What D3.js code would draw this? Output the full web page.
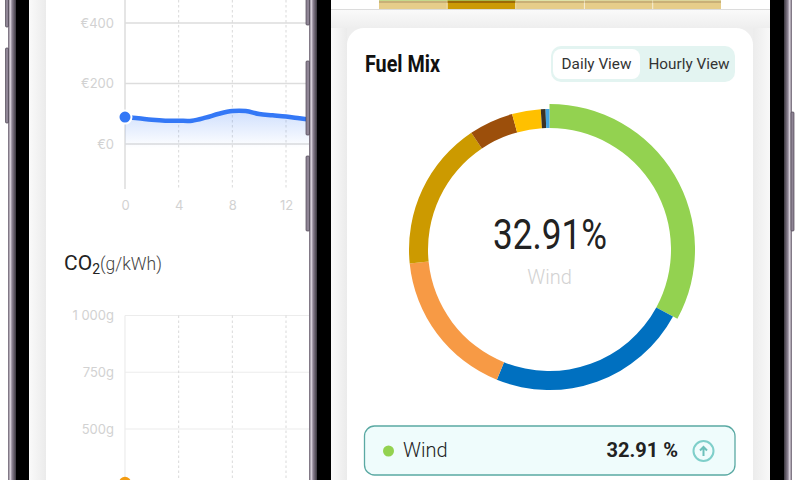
<!DOCTYPE html>
<html>
<head>
<meta charset="utf-8">
<style>
html, body { margin: 0; background: #fff; }
svg { display: block; font-family: Roboto, sans-serif; }
.tick text { fill: #d2d2d2; font: 13px Inter, Roboto, sans-serif; }
</style>
</head>
<body>
<svg id="chart" width="800" height="480"></svg>
<script src="https://cdnjs.cloudflare.com/ajax/libs/d3/7.8.5/d3.min.js"></script>
<script>
// price chart (left phone)
const priceHours = [0, 1, 2, 3, 4, 5, 6, 7, 8, 9, 10, 11, 12, 13, 14]
const priceValues = [89, 85, 80, 77, 77, 77, 87, 100, 109, 109, 99, 95, 91, 85, 79]
const priceTicks = [0, 200, 400]
const hourTicks = [0, 4, 8, 12]

// co2 chart, only the first point shows in the crop
const co2Hours = [0]
const co2Values = [263]
const co2Ticks = [500, 750, 1000]
const co2Labels = ['500g', '750g', '1 000g']

// fuel mix
const fuelNames = ['Wind', 'Hydro', 'Solar', 'Gas', 'Biomass', 'Nuclear', 'Coal', 'Other']
const fuelShares = [32.91, 23.2, 17.3, 17.2, 5.1, 3.3, 0.55, 0.44]
const fuelColors = ['#93d250', '#0070c0', '#f79a45', '#cc9a00', '#9c4f0b', '#ffc000', '#3a3226', '#45a5e0']

// strip of the chart cut off above the card
const stripCols = ['a', 'b', 'c', 'd', 'e']
const stripColors = ['#e6cd8a', '#cc9a05', '#e6cd8a', '#e6cd8a', '#e6cd8a']
const stripBands = ['#c9b077', '#9c6a05', '#c9b077', '#c9b077', '#c9b077']
const stripTops = ['#c5d98c', '#a8b84a', '#dfe3a8', '#dcd59a', '#dcd59a']

const svg = d3.select('#chart')
const defs = svg.append('defs')

function hGrad(id, stops) {
  const g = defs.append('linearGradient').attr('id', id)
  stops.forEach(s => g.append('stop').attr('offset', s[0]).attr('stop-color', s[1]))
}
hGrad('frameL', [[0, '#6b6270'], [0.3, '#d9d2dc'], [0.5, '#8f8595'], [1, '#3a363e']])
hGrad('frameR', [[0, '#3a363e'], [0.5, '#8f8595'], [0.7, '#d9d2dc'], [1, '#6b6270']])
hGrad('sideL', [[0, '#fafafa'], [1, '#ebebeb']])
hGrad('sideR', [[0, '#ececec'], [1, '#f8f8f8']])

const topGrad = defs.append('linearGradient').attr('id', 'sideTop')
  .attr('x1', 0).attr('x2', 0).attr('y1', 0).attr('y2', 1)
topGrad.append('stop').attr('offset', 0).attr('stop-color', '#fafafa')
topGrad.append('stop').attr('offset', 1).attr('stop-color', '#eeeeee')

const areaGrad = defs.append('linearGradient').attr('id', 'areaFill')
  .attr('gradientUnits', 'userSpaceOnUse')
  .attr('x1', 0).attr('x2', 0).attr('y1', 110).attr('y2', 148)
areaGrad.append('stop').attr('offset', 0).attr('stop-color', '#3478f6').attr('stop-opacity', 0.24)
areaGrad.append('stop').attr('offset', 1).attr('stop-color', '#3478f6').attr('stop-opacity', 0)

defs.append('clipPath').attr('id', 'leftScreen')
  .append('rect').attr('x', 46).attr('y', 0).attr('width', 263).attr('height', 480)

// phone bodies
function box(x, y, w, h, fill, r) {
  return svg.append('rect').attr('x', x).attr('y', y).attr('width', w).attr('height', h)
    .attr('fill', fill).attr('rx', r || 0)
}
box(8, 0, 8, 480, 'url(#frameL)')
box(16, 0, 14, 480, '#000')
box(29, 0, 17, 480, 'url(#sideL)')
box(309, 0, 8, 480, 'url(#frameL)')
box(317, 0, 14, 480, '#000')
box(331, 10, 16, 470, 'url(#sideL)')
box(347, 10, 406, 470, '#eeeeee')
box(331, 10, 439, 18, 'url(#sideTop)')
box(753, 28, 17, 452, 'url(#sideR)')
box(770, 0, 14, 480, '#000')
box(784, 0, 8, 480, 'url(#frameR)')
svg.append('line').attr('x1', 331).attr('x2', 770).attr('y1', 9.5).attr('y2', 9.5)
  .attr('stroke', '#dcdcdc')

// left phone charts
const left = svg.append('g').attr('clip-path', 'url(#leftScreen)')
const x = d3.scaleLinear().domain([0, 12]).range([125, 286])
const yPrice = d3.scaleLinear().domain([0, 400]).range([144, 23])
const yCo2 = d3.scaleLinear().domain([500, 1000]).range([429, 315.5])

function drawGrid(y, ticks, labels, top, bottom, solid, width) {
  const g = left.append('g')
  g.append('g').attr('transform', 'translate(125,0)')
    .call(d3.axisLeft(y).tickValues(ticks).tickSize(0).tickPadding(11)
      .tickFormat((d, i) => labels[i]))
    .call(a => a.select('.domain').remove())
  g.selectAll('.h').data(ticks).enter().append('line')
    .attr('x1', 125).attr('x2', 309)
    .attr('y1', d => y(d)).attr('y2', d => y(d))
    .attr('stroke', solid).attr('stroke-width', width)
  g.selectAll('.v').data(hourTicks).enter().append('line')
    .attr('x1', d => x(d)).attr('x2', d => x(d))
    .attr('y1', top).attr('y2', bottom)
    .attr('stroke', d => d === 0 ? solid : '#cfcfcf')
    .attr('stroke-width', d => d === 0 ? width : 0.8)
    .attr('stroke-dasharray', d => d === 0 ? null : '2.5 2.5')
  return g
}

drawGrid(yPrice, priceTicks, priceTicks.map(d => '€' + d), 0, 189, '#dddddd', 1.5)
drawGrid(yCo2, co2Ticks, co2Labels, 315.5, 480, '#ececec', 1.2)

left.append('g').attr('transform', 'translate(0,207)')
  .call(d3.axisBottom(x).tickValues(hourTicks).tickSize(0).tickPadding(-6))
  .call(a => a.select('.domain').remove())

const priceData = priceHours.map((h, i) => [h, priceValues[i]])
left.append('path').datum(priceData)
  .attr('fill', 'url(#areaFill)')
  .attr('d', d3.area().x(d => x(d[0])).y0(yPrice(-15)).y1(d => yPrice(d[1])).curve(d3.curveCatmullRom))
left.append('path').datum(priceData)
  .attr('fill', 'none').attr('stroke', '#3478f6').attr('stroke-width', 4.5)
  .attr('d', d3.line().x(d => x(d[0])).y(d => yPrice(d[1])).curve(d3.curveCatmullRom))
left.append('circle').attr('cx', x(priceHours[0])).attr('cy', yPrice(priceValues[0])).attr('r', 6.5)
  .attr('fill', '#3478f6').attr('stroke', '#fff').attr('stroke-width', 2)
left.selectAll('.co2').data(co2Hours).enter().append('circle')
  .attr('cx', d => x(d)).attr('cy', (d, i) => yCo2(co2Values[i])).attr('r', 6)
  .attr('fill', '#f39c12')

const co2Title = left.append('text').attr('x', 64).attr('y', 270)
  .attr('fill', '#222').attr('font-size', 21)
co2Title.append('tspan').text('CO')
co2Title.append('tspan').text('2').attr('font-size', 14).attr('dy', 4)
co2Title.append('tspan').text('(g/kWh)').attr('dy', -4).attr('font-size', 17.5).attr('font-weight', 300).attr('fill', '#444')

// side buttons between the phones and at the edges
function sideButtons(bx, w, list) {
  list.forEach(b => {
    box(bx, b[0], w, b[1] - b[0], '#8f8595', 1).attr('stroke', '#4a4450').attr('stroke-width', 0.7)
  })
}
sideButtons(5.5, 3, [[-10, 27], [48, 123]])
sideButtons(306, 3.5, [[-10, 25], [61, 135], [156, 231]])
sideButtons(791, 3, [[112, 231]])

// strip above the card
const strip = d3.scaleBand().domain(stripCols).range([379, 721]).paddingInner(0.01)
svg.selectAll('.strip').data(stripCols).enter().append('rect')
  .attr('x', d => strip(d)).attr('y', 0).attr('width', strip.bandwidth()).attr('height', 9)
  .attr('fill', (d, i) => stripColors[i])
svg.selectAll('.stripband').data(stripCols).enter().append('rect')
  .attr('x', d => strip(d)).attr('y', 1).attr('width', strip.bandwidth()).attr('height', 2)
  .attr('fill', (d, i) => stripBands[i])
svg.selectAll('.striptop').data(stripCols).enter().append('rect')
  .attr('x', d => strip(d)).attr('y', 0).attr('width', strip.bandwidth()).attr('height', 1)
  .attr('fill', (d, i) => stripTops[i])

// card
svg.append('rect').attr('x', 347).attr('y', 28).attr('width', 406).attr('height', 480).attr('rx', 17)
  .attr('fill', '#fff')

svg.append('text').attr('x', 365).attr('y', 72)
  .attr('font-size', 23).attr('font-weight', 700).attr('fill', '#111')
  .attr('textLength', 75).attr('lengthAdjust', 'spacingAndGlyphs').text('Fuel Mix')

box(551, 46, 184, 36, '#e3f4f1', 10)
box(553, 49, 87, 30, '#fff', 8)
svg.append('text').attr('x', 596.5).attr('y', 69).attr('text-anchor', 'middle')
  .attr('font-size', 15.3).attr('fill', '#333').text('Daily View')
svg.append('text').attr('x', 689).attr('y', 69).attr('text-anchor', 'middle')
  .attr('font-size', 15.3).attr('fill', '#333').text('Hourly View')

// donut
const pie = d3.pie().sort(null).value(d => d)
const arc = d3.arc().innerRadius(121.5)
const donut = svg.append('g').attr('transform', 'translate(549.5,249.5)')
donut.selectAll('path').data(pie(fuelShares)).enter().append('path')
  .attr('fill', (d, i) => fuelColors[i])
  .attr('d', (d, i) => arc.outerRadius(i === 0 ? 145.5 : 140.5)(d))

svg.append('text').attr('x', 550).attr('y', 249).attr('text-anchor', 'middle')
  .attr('font-size', 42).attr('fill', '#222')
  .attr('textLength', 114).attr('lengthAdjust', 'spacingAndGlyphs').text(fuelShares[0] + '%')
svg.append('text').attr('x', 549.5).attr('y', 284).attr('text-anchor', 'middle')
  .attr('font-size', 20).attr('font-weight', 300).attr('fill', '#d2d2d2').text(fuelNames[0])

// selected row
box(364.5, 426, 370.5, 49, '#effcfc', 10).attr('stroke', '#5aa9a3').attr('stroke-width', 1.3)
svg.append('circle').attr('cx', 388.5).attr('cy', 451).attr('r', 5.5).attr('fill', fuelColors[0])
svg.append('text').attr('x', 403).attr('y', 457).attr('font-size', 20).attr('font-weight', 300)
  .attr('fill', '#222').text(fuelNames[0])
svg.append('text').attr('x', 678).attr('y', 457).attr('text-anchor', 'end').attr('font-size', 20)
  .attr('font-weight', 700).attr('fill', '#222').text(fuelShares[0] + ' %')
svg.append('circle').attr('cx', 703.5).attr('cy', 451).attr('r', 10).attr('fill', 'none')
  .attr('stroke', '#7fcfca').attr('stroke-width', 2)
svg.append('path').attr('d', 'M703.5 456V447M700 450.5L703.5 447L707 450.5')
  .attr('fill', 'none').attr('stroke', '#6cc0ba').attr('stroke-width', 2)
</script>
</body>
</html>
